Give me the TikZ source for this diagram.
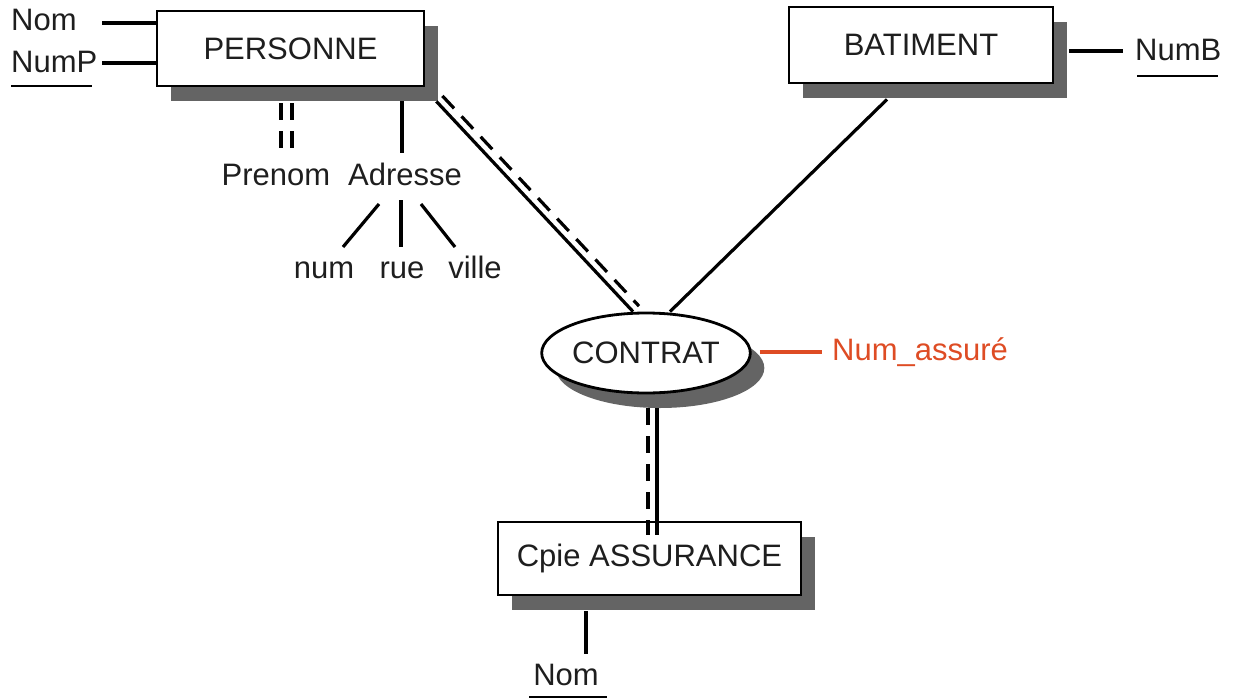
\documentclass[tikz,border=0pt]{standalone}
\usepackage{fontspec}
\setmainfont{Liberation Sans}
\usetikzlibrary{shadows,shapes.geometric}
\definecolor{shadowgray}{RGB}{100,100,100}
\definecolor{attrred}{RGB}{222,76,36}
\definecolor{txt}{RGB}{30,30,30}
\begin{document}
\begin{tikzpicture}[x=1pt,y=-1pt,
  every node/.style={font=\fontsize{31}{36}\selectfont, inner sep=0pt, text=txt},
  shad/.style={drop shadow={shadow xshift=14pt, shadow yshift=-15pt, opacity=1, fill=shadowgray}},
  entity/.style={draw, line width=2.8pt, fill=white, shad},
  relation/.style={ellipse, draw, line width=2.8pt, fill=white, shad},
  link/.style={line width=3.2pt},
  dlink/.style={line width=3.2pt, dash pattern=on 17pt off 11pt},
  uline/.style={line width=2.8pt},
]
\useasboundingbox (0,0) rectangle (1234,699);

% entities and relation
\node[entity, minimum width=267pt, minimum height=75pt] (pers) at (290.5,48.5) {PERSONNE};
\node[entity, minimum width=264pt, minimum height=76pt] (bat) at (921,45) {BATIMENT};
\node[entity, minimum width=303pt, minimum height=73pt] (cpie) at (649.5,558.5) {Cpie ASSURANCE};
\node[relation, minimum width=203pt, minimum height=80pt] (contrat) at (646,353) {CONTRAT};

% attributes
\node[anchor=base west] (nom1) at (11,30) {Nom};
\node[anchor=base west] (nump) at (11,72) {NumP};
\node[anchor=base] (prenom) at (276,185) {Prenom};
\node[anchor=base] (adresse) at (405,185) {Adresse};
\node[anchor=base] (num) at (324,278) {num};
\node[anchor=base] (rue) at (402,278) {rue};
\node[anchor=base] (ville) at (475,278) {ville};
\node[anchor=base west] (numb) at (1135,60) {NumB};
\node[anchor=base west, text=attrred] (numass) at (832,360) {Num\_assuré};
\node[anchor=base] (nom2) at (566,685) {Nom};

% underlines of identifiers
\draw[uline] ([shift={(0,14)}]nump.base west) -- ([shift={(-6,14)}]nump.base east);
\draw[uline] ([shift={(2,16)}]numb.base west) -- ([shift={(-4,16)}]numb.base east);
\draw[uline] ([shift={(-4,12)}]nom2.base west) -- ([shift={(8,12)}]nom2.base east);

% PERSONNE attributes
\draw[link] ([shift={(0,-25.5)}]pers.west) -- ++(-54,0);
\draw[link] ([shift={(0,14.5)}]pers.west) -- ++(-54,0);
\draw[dlink] ([shift={(-9.5,16)}]pers.south) -- ++(0,52);
\draw[dlink] ([shift={(1.5,16)}]pers.south) -- ++(0,52);
\draw[link] ([shift={(111.5,14)}]pers.south) -- ++(0,52);

% Adresse components
\draw[link] ([shift={(-26,19)}]adresse.base) -- ([shift={(19,-31)}]num.base);
\draw[link] ([shift={(-4,15)}]adresse.base) -- ([shift={(-1,-31)}]rue.base);
\draw[link] ([shift={(16,19)}]adresse.base) -- ([shift={(-20,-31)}]ville.base);

% BATIMENT attribute
\draw[link] ([shift={(15,6)}]bat.east) -- ++(54,0);

% PERSONNE -- CONTRAT (double: solid + dashed)
\draw[link] ([shift={(11,14)}]pers.south east) -- ([shift={(-13,0)}]contrat.north);
\draw[dlink] ([shift={(17,8.5)}]pers.south east) -- ([shift={(-7,-5.5)}]contrat.north);

% BATIMENT -- CONTRAT
\draw[link] ([shift={(-34,15)}]bat.south) -- ([shift={(24,0)}]contrat.north);

% CONTRAT -- Num_assuré
\draw[link, attrred] ([shift={(8,-1)}]contrat.east) -- ++(62,0);

% CONTRAT -- Cpie ASSURANCE (double)
\draw[dlink] ([shift={(2,14)}]contrat.south) -- ([shift={(2,14)}]contrat.south |- cpie.north);
\draw[link] ([shift={(11,14)}]contrat.south) -- ([shift={(11,14)}]contrat.south |- cpie.north);

% Cpie ASSURANCE attribute
\draw[link] ([shift={(-63.5,15)}]cpie.south) -- ++(0,43);
\end{tikzpicture}
\end{document}
